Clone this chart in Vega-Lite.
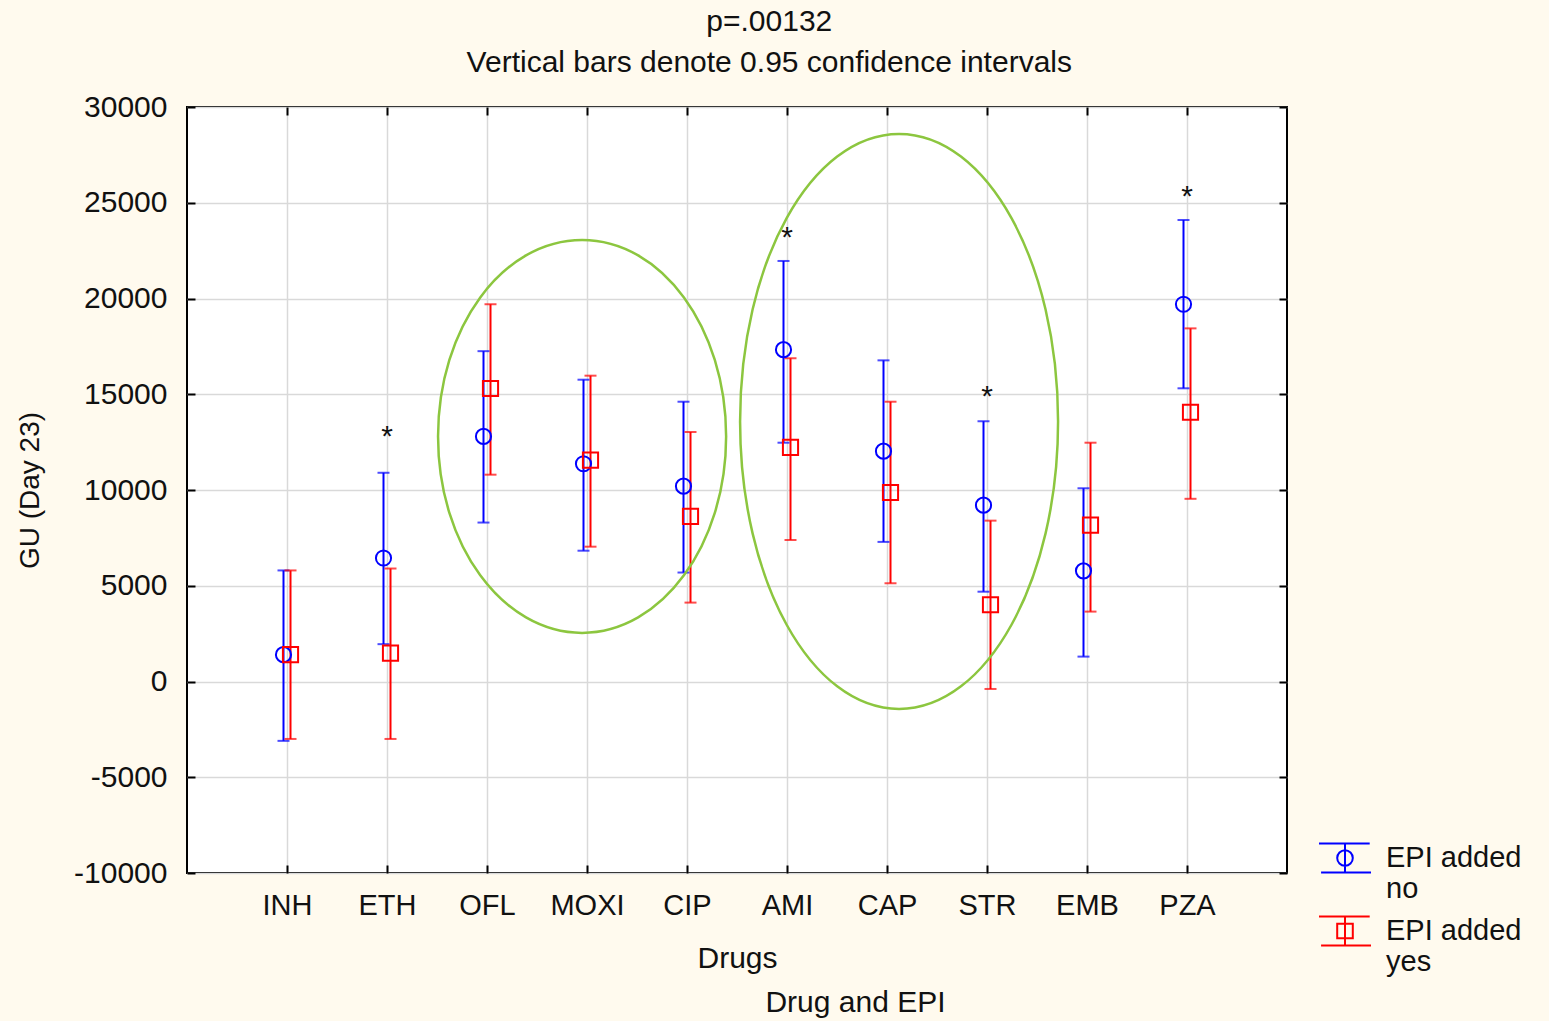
{
  "$schema": "https://vega.github.io/schema/vega-lite/v6.json",
  "width": 1100,
  "height": 766,
  "autosize": "none",
  "padding": {"left": 187, "top": 107, "right": 262, "bottom": 148},
  "background": "#fffaee",
  "title": {
    "text": "p=.00132",
    "subtitle": "Vertical bars denote 0.95 confidence intervals",
    "font": "Liberation Sans",
    "subtitleFont": "Liberation Sans",
    "fontSize": 30,
    "subtitleFontSize": 30,
    "fontWeight": "normal",
    "color": "#111111",
    "subtitleColor": "#111111",
    "offset": 14,
    "subtitlePadding": 11,
    "anchor": "middle",
    "frame": "bounds"
  },
  "config": {
    "view": {"fill": "white", "stroke": "black", "strokeWidth": 2},
    "font": "Liberation Sans",
    "axis": {
      "labelFont": "Liberation Sans",
      "titleFont": "Liberation Sans",
      "labelFontSize": 29,
      "titleFontSize": 30,
      "titleFontWeight": "normal",
      "labelColor": "#111111",
      "titleColor": "#111111",
      "gridColor": "#d9d9d9",
      "gridWidth": 1.5,
      "domain": false,
      "tickColor": "black",
      "tickWidth": 2
    },
    "legend": {
      "orient": "none",
      "legendX": 1131,
      "legendY": 724,
      "title": null,
      "padding": 0,
      "symbolSize": 2704,
      "symbolStrokeWidth": 2,
      "symbolOpacity": 1,
      "labelFont": "Liberation Sans",
      "labelFontSize": 29,
      "labelColor": "#111111",
      "labelOffset": 14,
      "labelLimit": 400,
      "rowPadding": 0
    }
  },
  "datasets": {
    "stats": [
      {"drug": "INH", "epi": "no", "mean": 1400, "lo": -3100, "hi": 5800},
      {"drug": "INH", "epi": "yes", "mean": 1400, "lo": -3000, "hi": 5800},
      {"drug": "ETH", "epi": "no", "mean": 6450, "lo": 1950, "hi": 10900},
      {"drug": "ETH", "epi": "yes", "mean": 1480, "lo": -3000, "hi": 5900},
      {"drug": "OFL", "epi": "no", "mean": 12800, "lo": 8300, "hi": 17250},
      {"drug": "OFL", "epi": "yes", "mean": 15300, "lo": 10800, "hi": 19700},
      {"drug": "MOXI", "epi": "no", "mean": 11370, "lo": 6830, "hi": 15760},
      {"drug": "MOXI", "epi": "yes", "mean": 11560, "lo": 7040, "hi": 15970},
      {"drug": "CIP", "epi": "no", "mean": 10200, "lo": 5690, "hi": 14610},
      {"drug": "CIP", "epi": "yes", "mean": 8620, "lo": 4120, "hi": 13030},
      {"drug": "AMI", "epi": "no", "mean": 17330, "lo": 12470, "hi": 21960},
      {"drug": "AMI", "epi": "yes", "mean": 12230, "lo": 7390, "hi": 16880},
      {"drug": "CAP", "epi": "no", "mean": 12030, "lo": 7290, "hi": 16770},
      {"drug": "CAP", "epi": "yes", "mean": 9870, "lo": 5130, "hi": 14610},
      {"drug": "STR", "epi": "no", "mean": 9210, "lo": 4690, "hi": 13590},
      {"drug": "STR", "epi": "yes", "mean": 4010, "lo": -390, "hi": 8400},
      {"drug": "EMB", "epi": "no", "mean": 5780, "lo": 1300, "hi": 10090},
      {"drug": "EMB", "epi": "yes", "mean": 8170, "lo": 3650, "hi": 12470},
      {"drug": "PZA", "epi": "no", "mean": 19700, "lo": 15310, "hi": 24100},
      {"drug": "PZA", "epi": "yes", "mean": 14060, "lo": 9540, "hi": 18440}
    ],
    "stars": [
      {"drug": "ETH", "y": 13170, "label": "*"},
      {"drug": "AMI", "y": 23580, "label": "*"},
      {"drug": "STR", "y": 15250, "label": "*"},
      {"drug": "PZA", "y": 25720, "label": "*"}
    ],
    "ellipseA": [{"drug": "MOXI", "y": 12800}],
    "ellipseB": [{"drug": "CAP", "y": 13580}]
  },
  "layer": [
    {
      "data": {"name": "stats"},
      "mark": {"type": "rule", "strokeWidth": 2},
      "encoding": {
        "x": {
          "field": "drug", "type": "nominal",
          "scale": {"type": "point", "padding": 1, "domain": ["INH", "ETH", "OFL", "MOXI", "CIP", "AMI", "CAP", "STR", "EMB", "PZA"]},
          "axis": {"orient": "bottom", "title": "Drugs", "grid": true, "tickSize": -8, "labelPadding": 26, "titlePadding": 23, "labelAngle": 0}
        },
        "xOffset": {"field": "epi", "type": "nominal", "scale": {"type": "point", "domain": ["no", "yes"], "range": [-7, 7]}},
        "y": {
          "field": "lo", "type": "quantitative",
          "scale": {"domain": [-10000, 30000], "nice": false, "zero": false},
          "axis": {"orient": "left", "title": "GU (Day 23)", "grid": true, "values": [-10000, -5000, 0, 5000, 10000, 15000, 20000, 25000, 30000], "tickSize": -8, "labelPadding": 28, "labelExpr": "'' + datum.value", "labelFontSize": 30, "titleFontSize": 28, "titlePadding": 29}
        },
        "y2": {"field": "hi"},
        "color": {"field": "epi", "type": "nominal", "scale": {"domain": ["no", "yes"], "range": ["#0000ff", "#ff0000"]}, "legend": null}
      }
    },
    {
      "data": {"name": "stats"},
      "mark": {"type": "tick", "thickness": 2, "size": 12},
      "encoding": {
        "x": {
          "field": "drug", "type": "nominal",
          "scale": {"type": "point", "padding": 1, "domain": ["INH", "ETH", "OFL", "MOXI", "CIP", "AMI", "CAP", "STR", "EMB", "PZA"]},
          "axis": {"orient": "top", "labels": false, "title": null, "grid": false, "tickSize": -8}
        },
        "xOffset": {"field": "epi", "type": "nominal", "scale": {"type": "point", "domain": ["no", "yes"], "range": [-7, 7]}},
        "y": {
          "field": "lo", "type": "quantitative",
          "axis": {"orient": "right", "labels": false, "title": null, "grid": false, "tickSize": -8, "values": [-10000, -5000, 0, 5000, 10000, 15000, 20000, 25000, 30000]}
        },
        "color": {"field": "epi", "type": "nominal", "legend": null}
      }
    },
    {
      "data": {"name": "stats"},
      "mark": {"type": "tick", "thickness": 2, "size": 12},
      "encoding": {
        "x": {
          "field": "drug", "type": "nominal",
          "scale": {"type": "point", "padding": 1, "domain": ["INH", "ETH", "OFL", "MOXI", "CIP", "AMI", "CAP", "STR", "EMB", "PZA"]},
          "axis": {"orient": "bottom", "labels": false, "ticks": false, "grid": false, "title": "Drug and EPI", "titleX": 668, "titleY": 114, "titleBaseline": "top", "titleAlign": "center", "titleAngle": 0}
        },
        "xOffset": {"field": "epi", "type": "nominal", "scale": {"type": "point", "domain": ["no", "yes"], "range": [-7, 7]}},
        "y": {"field": "hi", "type": "quantitative", "axis": null},
        "color": {"field": "epi", "type": "nominal", "legend": null}
      }
    },
    {
      "data": {"name": "stats"},
      "mark": {"type": "point", "filled": false, "strokeWidth": 2, "size": 230, "opacity": 1},
      "encoding": {
        "x": {
          "field": "drug", "type": "nominal",
          "scale": {"type": "point", "padding": 1, "domain": ["INH", "ETH", "OFL", "MOXI", "CIP", "AMI", "CAP", "STR", "EMB", "PZA"]},
          "axis": null
        },
        "xOffset": {"field": "epi", "type": "nominal", "scale": {"type": "point", "domain": ["no", "yes"], "range": [-7, 7]}},
        "y": {"field": "mean", "type": "quantitative", "axis": null},
        "color": {"field": "epi", "type": "nominal", "legend": null},
        "shape": {"field": "epi", "type": "nominal", "scale": {"domain": ["no", "yes"], "range": ["circle", "square"]}, "legend": null}
      }
    },
    {
      "data": {"name": "stats"},
      "mark": {"type": "point", "filled": false, "strokeWidth": 2, "size": 100, "opacity": 0},
      "encoding": {
        "x": {
          "field": "drug", "type": "nominal",
          "scale": {"type": "point", "padding": 1, "domain": ["INH", "ETH", "OFL", "MOXI", "CIP", "AMI", "CAP", "STR", "EMB", "PZA"]},
          "axis": null
        },
        "y": {"field": "mean", "type": "quantitative", "axis": null},
        "stroke": {
          "field": "epi", "type": "nominal",
          "scale": {"domain": ["no", "yes"], "range": ["#0000ff", "#ff0000"]},
          "legend": {
            "title": null,
            "labelExpr": "['EPI added', datum.label]",
            "encode": {"labels": {"update": {"lineHeight": {"value": 35}}}}
          }
        },
        "shape": {
          "field": "epi", "type": "nominal",
          "scale": {"domain": ["no", "yes"], "range": ["M-1,-0.56H0.95M-0.92,0.56H1M0,-0.56V0.56M0.3,0A0.3,0.3 0 1,1 -0.3,0A0.3,0.3 0 1,1 0.3,0Z", "M-1,-0.56H0.95M-0.92,0.56H1M0,-0.56V0.56M-0.3,-0.28H0.3V0.28H-0.3Z"]},
          "legend": {
            "title": null,
            "labelExpr": "['EPI added', datum.label]",
            "encode": {"labels": {"update": {"lineHeight": {"value": 35}}}}
          }
        }
      }
    },
    {
      "data": {"name": "stars"},
      "mark": {"type": "text", "fontSize": 30, "dy": 8, "color": "#111111", "font": "Liberation Sans"},
      "encoding": {
        "x": {
          "field": "drug", "type": "nominal",
          "scale": {"type": "point", "padding": 1, "domain": ["INH", "ETH", "OFL", "MOXI", "CIP", "AMI", "CAP", "STR", "EMB", "PZA"]},
          "axis": null
        },
        "y": {"field": "y", "type": "quantitative", "axis": null},
        "text": {"field": "label"}
      }
    },
    {
      "data": {"name": "ellipseA"},
      "mark": {"type": "point", "filled": false, "stroke": "#8cc63f", "strokeWidth": 2.5, "opacity": 1, "size": 154449, "shape": "M-0.758,0A0.733,1 0 1,0 0.708,0A0.733,1 0 1,0 -0.758,0Z"},
      "encoding": {
        "x": {
          "field": "drug", "type": "nominal",
          "scale": {"type": "point", "padding": 1, "domain": ["INH", "ETH", "OFL", "MOXI", "CIP", "AMI", "CAP", "STR", "EMB", "PZA"]},
          "axis": null
        },
        "y": {"field": "y", "type": "quantitative", "axis": null}
      }
    },
    {
      "data": {"name": "ellipseB"},
      "mark": {"type": "point", "filled": false, "stroke": "#8cc63f", "strokeWidth": 2.5, "opacity": 1, "size": 330625, "shape": "M-0.511,0A0.553,1 0 1,0 0.595,0A0.553,1 0 1,0 -0.511,0Z"},
      "encoding": {
        "x": {
          "field": "drug", "type": "nominal",
          "scale": {"type": "point", "padding": 1, "domain": ["INH", "ETH", "OFL", "MOXI", "CIP", "AMI", "CAP", "STR", "EMB", "PZA"]},
          "axis": null
        },
        "y": {"field": "y", "type": "quantitative", "axis": null}
      }
    }
  ],
  "resolve": {"axis": {"x": "independent", "y": "independent"}, "scale": {"shape": "independent", "stroke": "independent"}}
}
